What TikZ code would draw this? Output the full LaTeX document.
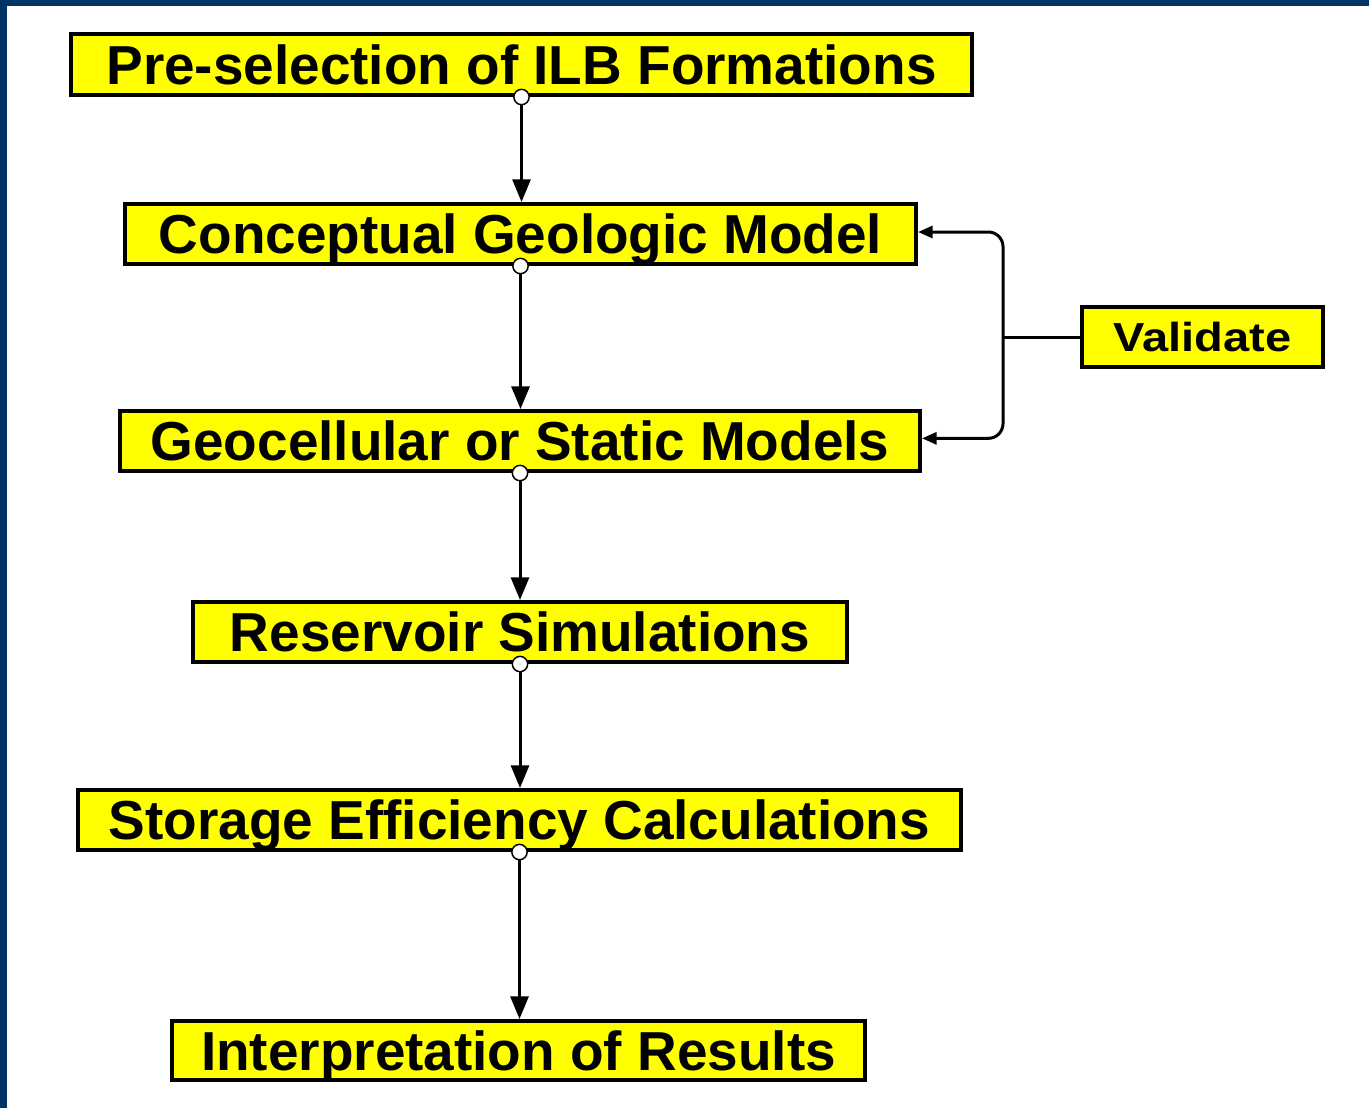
\documentclass[tikz,border=0pt]{standalone}
\usepackage{fontspec}
\usepackage{graphicx}
\setmainfont{Liberation Sans}
\usetikzlibrary{arrows.meta}
\definecolor{navy}{RGB}{0,51,102}
\definecolor{boxyellow}{RGB}{255,255,0}
\tikzset{
  stepbox/.style={draw=black, line width=3pt, fill=boxyellow, inner sep=0pt,
    minimum height=45pt, text height=29.5pt, text depth=0pt,
    font=\fontsize{41.2}{49}\selectfont\bfseries},
  valbox/.style={stepbox, text height=21.8pt, font=\fontsize{30.4}{36}\selectfont\bfseries},
  dotnode/.style={circle, draw=black, fill=white, line width=1.1pt, inner sep=0pt, minimum size=11.5pt},
  flowarrow/.style={line width=2.25pt, -{Triangle[length=17pt,width=13.5pt]}},
  sidearrow/.style={line width=2.25pt, rounded corners=11pt, -{Triangle[length=11pt,width=9pt]}},
  sideline/.style={line width=2.25pt}
}
\begin{document}
\begin{tikzpicture}[x=0.75pt,y=-0.75pt]
\useasboundingbox (0,0) rectangle (1369,1108);
\fill[white] (0,0) rectangle (1369,1108);
\fill[navy] (0,0) rectangle (1369,6);
\fill[navy] (0,0) rectangle (7,1108);

\node[stepbox, minimum width=675.75pt, minimum height=45.75pt] (p1) at (521.5,64.5) {Pre-selection of ILB Formations};
\node[stepbox, minimum width=593.25pt] (p2) at (520.5,234) {Conceptual Geologic Model};
\node[stepbox, minimum width=600pt] (p3) at (520,441) {Geocellular or Static Models};
\node[stepbox, minimum width=490.5pt] (p4) at (520,632) {Reservoir Simulations};
\node[stepbox, minimum width=662.25pt] (p5) at (519.5,820) {Storage Efficiency Calculations};
\node[stepbox, minimum width=519.75pt, minimum height=44.25pt] (p6) at (518.5,1050.5) {Interpretation of Results};
\node[valbox, minimum width=180.75pt] (val) at (1202.5,337) {\scalebox{1.16}[1]{Validate}};

\node[dotnode] (c1) at (p1.south) {};
\node[dotnode] (c2) at (p2.south) {};
\node[dotnode] (c3) at (p3.south) {};
\node[dotnode] (c4) at (p4.south) {};
\node[dotnode] (c5) at (p5.south) {};

\draw[flowarrow] (c1) -- (c1 |- p2.north);
\draw[flowarrow] (c2) -- (c2 |- p3.north);
\draw[flowarrow] (c3) -- (c3 |- p4.north);
\draw[flowarrow] (c4) -- (c4 |- p5.north);
\draw[flowarrow] (c5) -- (c5 |- p6.north);

\coordinate (br) at (1003,337);
\draw[sideline] (val.west) -- (br);
\draw[sidearrow] (br) |- ([yshift=1.5pt]p2.east);
\draw[sidearrow] (br) |- ([yshift=2pt]p3.east);
\end{tikzpicture}
\end{document}
